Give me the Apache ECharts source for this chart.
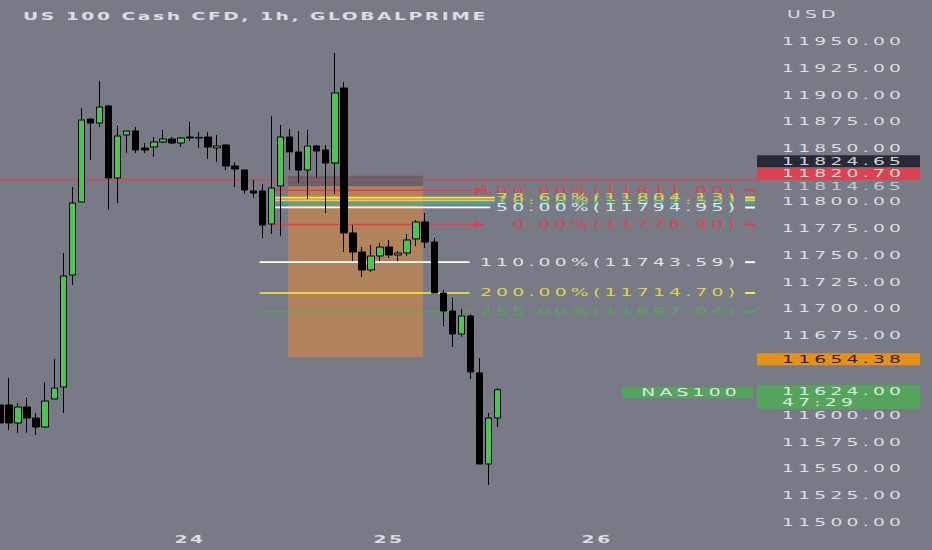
<!DOCTYPE html>
<html><head><meta charset="utf-8">
<script src="https://cdn.jsdelivr.net/npm/echarts@6/dist/echarts.min.js"></script>
<style>
html,body{margin:0;padding:0;background:#787b86;}
#chart{width:932px;height:550px;}
#chart text{letter-spacing:2.5px;}
#chart text[style*="bold"]{letter-spacing:1.5px;}
</style></head><body><div id="chart"></div>
<script>
// ---------- data ----------
const chartTitle = 'US 100 Cash CFD, 1h, GLOBALPRIME';
const currencyLabel = 'USD';
// hourly candles: [open, close, low, high]
const candles = [
  [11609.69, 11592.81, 11588.13, 11619.06],
  [11609.69, 11592.81, 11586.25, 11635.00],
  [11592.81, 11607.81, 11583.44, 11611.56],
  [11607.81, 11597.50, 11583.44, 11616.25],
  [11597.50, 11589.06, 11581.56, 11602.19],
  [11589.06, 11613.44, 11588.50, 11631.25],
  [11615.31, 11625.63, 11615.31, 11652.81],
  [11626.56, 11730.63, 11602.19, 11752.19],
  [11731.56, 11799.06, 11722.19, 11814.06],
  [11800.00, 11876.88, 11800.00, 11888.13],
  [11877.81, 11874.06, 11839.38, 11877.81],
  [11874.06, 11889.06, 11870.31, 11913.44],
  [11890.00, 11822.50, 11792.50, 11890.94],
  [11822.50, 11861.88, 11799.06, 11871.25],
  [11862.81, 11866.56, 11845.94, 11866.56],
  [11866.56, 11848.75, 11845.94, 11870.31],
  [11850.63, 11848.75, 11845.94, 11855.31],
  [11851.56, 11856.25, 11842.19, 11860.94],
  [11856.25, 11859.06, 11855.31, 11867.50],
  [11859.06, 11855.31, 11854.38, 11860.94],
  [11855.31, 11860.00, 11851.56, 11860.94],
  [11860.94, 11860.00, 11857.19, 11875.00],
  [11860.50, 11860.00, 11850.63, 11865.63],
  [11860.94, 11851.56, 11840.31, 11865.63],
  [11850.63, 11852.50, 11837.50, 11862.81],
  [11853.44, 11833.75, 11830.00, 11854.38],
  [11833.75, 11830.94, 11814.06, 11837.50],
  [11830.00, 11811.25, 11807.50, 11830.00],
  [11810.31, 11808.44, 11803.75, 11820.63],
  [11810.31, 11778.44, 11766.25, 11816.88],
  [11779.38, 11813.13, 11770.00, 11880.63],
  [11815.00, 11860.94, 11768.13, 11872.19],
  [11860.94, 11846.88, 11830.00, 11868.44],
  [11846.88, 11830.00, 11817.81, 11866.56],
  [11830.00, 11852.50, 11802.81, 11867.50],
  [11852.50, 11847.81, 11822.50, 11853.44],
  [11848.75, 11836.56, 11789.69, 11853.44],
  [11836.56, 11902.19, 11807.50, 11939.69],
  [11906.88, 11770.94, 11753.13, 11912.50],
  [11770.94, 11753.13, 11744.69, 11778.44],
  [11753.13, 11736.25, 11729.69, 11757.81],
  [11736.25, 11749.38, 11734.38, 11759.69],
  [11749.38, 11757.81, 11744.69, 11761.56],
  [11757.81, 11750.31, 11747.50, 11764.38],
  [11750.31, 11752.19, 11744.69, 11754.06],
  [11752.19, 11764.38, 11749.38, 11770.00],
  [11765.31, 11781.25, 11758.75, 11783.13],
  [11781.25, 11762.50, 11756.88, 11789.69],
  [11762.50, 11714.69, 11714.69, 11766.25],
  [11714.69, 11697.81, 11683.75, 11717.50],
  [11697.81, 11676.25, 11664.06, 11710.00],
  [11676.25, 11693.13, 11673.44, 11699.69],
  [11693.13, 11640.63, 11634.06, 11695.00],
  [11639.69, 11554.38, 11554.38, 11653.75],
  [11554.38, 11597.50, 11534.69, 11602.19],
  [11597.50, 11624.00, 11589.06, 11625.63]
];
const slotCount = 85;                 // hourly slots across the visible range
const dayTickIndex = [21, 43, 66];
const dayTickLabel = ['24', '25', '26'];
const priceMin = 11475, priceMax = 11975, priceStep = 25;
const hiddenPriceTicks = [11475, 11975, 11825, 11650, 11625];

// Fibonacci retracement #1 (bar-index span, levels)
const fib1Span = [30.2, 53.6];
const fib1Pct = ['100.00%', '78.60%', '70.50%', '61.80%', '50.00%', '0.00%'];
const fib1Price = [11811.00, 11804.13, 11801.53, 11798.74, 11794.95, 11778.90];
// Fibonacci extension #2
const fib2Span = [28.7, 51.9];
const fib2Pct = ['110.00%', '200.00%', '255.00%'];
const fib2Price = [11743.59, 11714.70, 11697.04];
// short position tool
const positionSpan = [31.83, 46.75];
const positionStop = 11824.65, positionEntry = 11814.65, positionTarget = 11654.38;
// price lines / tags
const bidPrice = 11820.70;
const lastPrice = 11624.00;
const countdown = '47:29';
const symbolName = 'NAS100';

// ---------- styles ----------
const FONT = 'DejaVu Sans';
const FS = 11;
const STRETCH = 1.7;                 // horizontal glyph stretch of the screenshot
const TXT = '#dcdde0';
const RED = '#f23645', WHITE = '#ffffff', YELLOW = '#ffeb3b', GREEN = '#4caf50';
const fib1Colors = [RED, YELLOW, '#e9d23c', '#2bb3b8', WHITE, RED];
const fib1Arrow = [true, false, false, false, false, true];
const fib1Ends = [53.6, 54.7, 54.7, 54.7, 54.2, 53.6];
const fib2Colors = [WHITE, YELLOW, GREEN];
const labelRight = 81.7, dashFrom = 82.35, dashTo = 83.45;
const xMaxSlot = slotCount - 1;

const fmt = v => v.toFixed(2);
const series = [];

// position tool rectangles
series.push({
  type: 'custom', xAxisIndex: 1, yAxisIndex: 0, z: 1, silent: true, animation: false,
  data: [
    [positionSpan[0], positionSpan[1], positionStop, positionEntry, 0],
    [positionSpan[0], positionSpan[1], positionEntry, positionTarget, 1]
  ],
  renderItem: (params, api) => {
    const p1 = api.coord([api.value(0), api.value(2)]);
    const p2 = api.coord([api.value(1), api.value(3)]);
    return {
      type: 'rect',
      shape: { x: p1[0], y: p1[1], width: p2[0] - p1[0], height: p2[1] - p1[1] },
      style: { fill: api.value(4) === 0 ? 'rgba(70,70,80,0.45)' : 'rgba(232,140,50,0.5)' }
    };
  }
});

function hLine(x1, x2, price, color, width, z) {
  return {
    type: 'line', xAxisIndex: 1, yAxisIndex: 0, z: z || 2, silent: true, animation: false,
    symbol: 'none', data: [[x1, price], [x2, price]],
    lineStyle: { color: color, width: width }
  };
}
function textAt(x, price, text, color, position, extra) {
  return {
    type: 'scatter', xAxisIndex: 1, yAxisIndex: 0, z: 3, silent: true, animation: false,
    symbolSize: 0, data: [[x, price]],
    label: Object.assign({
      show: true, position: position, distance: 0, formatter: text,
      color: color, fontSize: FS, fontFamily: FONT
    }, extra || {})
  };
}

// bid line across the whole chart
series.push(hLine(0, xMaxSlot, bidPrice, RED, 1));

// fib 1
fib1Price.forEach((p, i) => {
  series.push(hLine(fib1Span[0], fib1Ends[i], p, fib1Colors[i], 1.6));
  if (fib1Arrow[i]) {
    series.push({
      type: 'scatter', xAxisIndex: 1, yAxisIndex: 0, z: 2, silent: true, animation: false,
      symbol: 'arrow', symbolSize: [7, 8], symbolRotate: -90,
      itemStyle: { color: fib1Colors[i] }, data: [[fib1Span[1] - 0.3, p]]
    });
  }
  series.push(textAt(labelRight, p, fib1Pct[i] + '(' + fmt(p) + ')', fib1Colors[i], 'left'));
  series.push(hLine(dashFrom, dashTo, p, fib1Colors[i], 2));
});
// fib 2
fib2Price.forEach((p, i) => {
  series.push(hLine(fib2Span[0], fib2Span[1], p, fib2Colors[i], i === 2 ? 1 : 1.6));
  series.push(textAt(labelRight, p, fib2Pct[i] + '(' + fmt(p) + ')', fib2Colors[i], 'left'));
  series.push(hLine(dashFrom, dashTo, p, fib2Colors[i], 2));
});

// price-scale tags
const tagBox = { distance: -3, width: 138, height: 12, lineHeight: 12, padding: [0, 0, 0, 25], align: 'left' };
series.push(textAt(xMaxSlot, positionStop, fmt(positionStop), '#ffffff', 'right',
  Object.assign({}, tagBox, { backgroundColor: '#131722', offset: [0, -14.5] })));
series.push(textAt(xMaxSlot, bidPrice, fmt(bidPrice), '#ffffff', 'right',
  Object.assign({}, tagBox, { backgroundColor: RED, offset: [0, -6] })));
series.push(textAt(xMaxSlot, positionEntry, fmt(positionEntry), TXT, 'right',
  { distance: 22 }));
series.push(textAt(xMaxSlot, positionTarget, fmt(positionTarget), '#000000', 'right',
  Object.assign({}, tagBox, { backgroundColor: '#ff9800', offset: [0, 2] })));
series.push(textAt(xMaxSlot, lastPrice, fmt(lastPrice) + '\n' + countdown, '#ffffff', 'right',
  Object.assign({}, tagBox, { backgroundColor: GREEN, height: 22, lineHeight: 11, padding: [1, 0, 1, 25], offset: [0, 7.3] })));
series.push(textAt(xMaxSlot, lastPrice, symbolName, '#ffffff', 'left',
  { distance: 7, width: 119, height: 11, lineHeight: 11, padding: [0, 12, 0, 0], backgroundColor: GREEN, offset: [0, 3] }));

// candles on top
series.push({
  type: 'candlestick', xAxisIndex: 0, yAxisIndex: 0, z: 5, animation: false, silent: true,
  barWidth: 7, data: candles,
  itemStyle: { color: '#4cc552', color0: '#000000', borderColor: '#000000', borderColor0: '#000000', borderWidth: 1 }
});

const categories = Array.from({ length: slotCount }, (_, i) => String(i));

const chart = echarts.init(document.getElementById('chart'), null, { renderer: 'svg', width: 932, height: 550 });
chart.setOption({
  backgroundColor: '#787b86',
  animation: false,
  title: [
    { text: chartTitle, left: 18, top: 6, textStyle: { color: TXT, fontSize: 11, fontWeight: 'bold', fontFamily: FONT } },
    { text: currencyLabel, left: 782, top: 4, textStyle: { color: TXT, fontSize: FS, fontWeight: 'normal', fontFamily: FONT } }
  ],
  grid: { left: 0, right: 172, top: 15.333, bottom: 1.333, containLabel: false },
  xAxis: [
    {
      type: 'category', data: categories, boundaryGap: false,
      axisLine: { show: false }, axisTick: { show: false }, splitLine: { show: false },
      axisLabel: {
        inside: true, margin: 4, color: TXT, fontSize: 11, fontWeight: 'bold', fontFamily: FONT,
        interval: (idx) => dayTickIndex.indexOf(idx) >= 0,
        formatter: (v, idx) => { const k = dayTickIndex.indexOf(idx); return k >= 0 ? dayTickLabel[k] : ''; }
      }
    },
    { type: 'value', min: 0, max: xMaxSlot, show: false }
  ],
  yAxis: {
    type: 'value', position: 'right', min: priceMin, max: priceMax, interval: priceStep,
    axisLine: { show: false }, axisTick: { show: false }, splitLine: { show: false },
    axisLabel: {
      margin: 22, color: TXT, fontSize: FS, fontFamily: FONT,
      formatter: v => hiddenPriceTicks.indexOf(v) >= 0 ? '' : v.toFixed(2)
    }
  },
  series: series
});

// the reference screenshot is horizontally stretched: widen glyphs of every text
function stretchTexts() {
  document.querySelectorAll('#chart svg text').forEach(t => {
    if (t.getAttribute('data-stretched')) return;
    const len = t.getComputedTextLength();
    if (len > 0) {
      t.setAttribute('textLength', (len * STRETCH).toFixed(2));
      t.setAttribute('lengthAdjust', 'spacingAndGlyphs');
      t.setAttribute('data-stretched', '1');
    }
  });
}
chart.on('finished', stretchTexts);
stretchTexts();
setTimeout(stretchTexts, 30);
</script></body></html>
